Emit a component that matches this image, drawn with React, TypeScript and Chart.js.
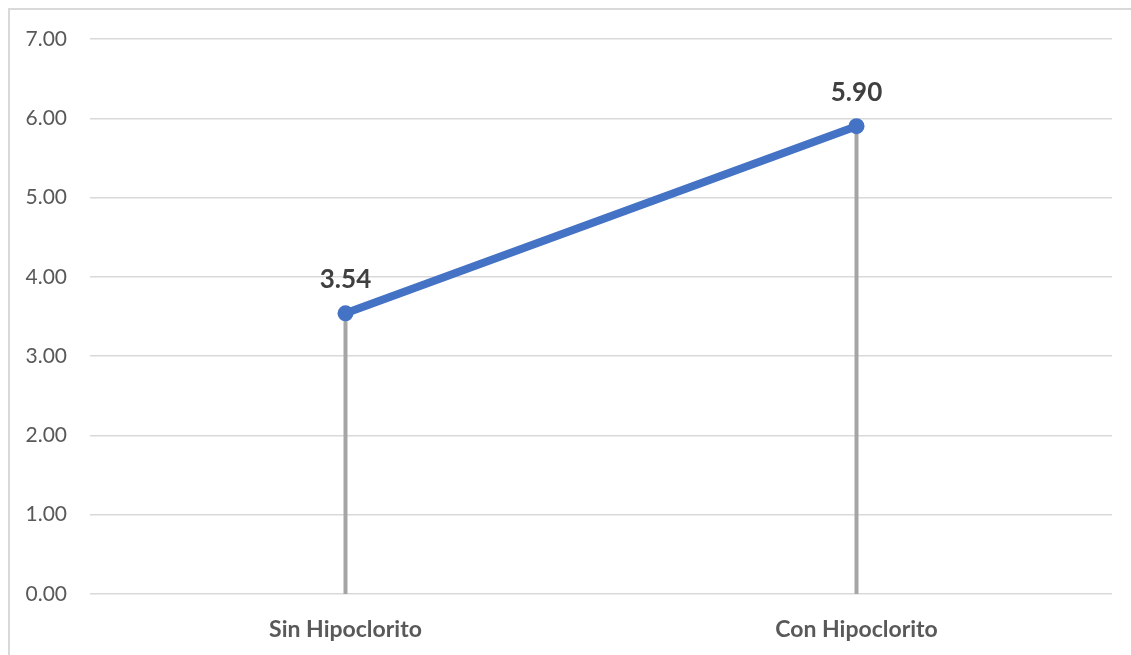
import React, { useEffect, useRef } from "react";
import { Chart, registerables } from "chart.js";

Chart.register(...registerables);

const categories = ["Sin Hipoclorito", "Con Hipoclorito"];
const values = [3.54, 5.9];
const yTicks = [0, 1, 2, 3, 4, 5, 6, 7];

const FONT = "Lato, 'Open Sans', sans-serif";

// Vertical drop lines from each point down to the zero line
const dropLines = {
  id: "dropLines",
  beforeDatasetsDraw(chart: any) {
    const { ctx, scales } = chart;
    const meta = chart.getDatasetMeta(0);
    const y0 = scales.y.getPixelForValue(0);
    ctx.save();
    ctx.strokeStyle = "#a5a5a5";
    ctx.lineWidth = 4;
    meta.data.forEach((pt: any) => {
      ctx.beginPath();
      ctx.moveTo(pt.x, pt.y);
      ctx.lineTo(pt.x, y0);
      ctx.stroke();
    });
    ctx.restore();
  },
};

// Value labels above each point
const valueLabels = {
  id: "valueLabels",
  afterDatasetsDraw(chart: any) {
    const { ctx } = chart;
    const meta = chart.getDatasetMeta(0);
    ctx.save();
    ctx.font = `bold 26px ${FONT}`;
    ctx.fillStyle = "#404040";
    ctx.textAlign = "center";
    ctx.textBaseline = "middle";
    meta.data.forEach((pt: any, i: number) => {
      ctx.fillText(values[i].toFixed(2), pt.x, pt.y - 34);
    });
    ctx.restore();
  },
};

export default function App() {
  const ref = useRef<HTMLCanvasElement>(null);

  useEffect(() => {
    if (!ref.current) return;
    const chart = new Chart(ref.current, {
      type: "line",
      data: {
        labels: categories,
        datasets: [
          {
            data: values,
            borderColor: "#4472c4",
            backgroundColor: "#4472c4",
            borderWidth: 8,
            pointRadius: 8,
            pointHoverRadius: 8,
            pointBorderWidth: 0,
            tension: 0,
          },
        ],
      },
      options: {
        animation: false,
        responsive: false,
        events: [],
        layout: { padding: { top: 31, right: 17, bottom: 0, left: 0 } },
        plugins: { legend: { display: false }, tooltip: { enabled: false } },
        scales: {
          x: {
            offset: true,
            grid: { display: false, drawTicks: false },
            border: { display: false },
            ticks: {
              color: "#595959",
              font: { family: FONT, size: 23, weight: "bold" },
              padding: 22,
            },
            afterFit(scale: any) {
              scale.height = 59;
            },
          },
          y: {
            min: 0,
            max: 7,
            afterBuildTicks(scale: any) {
              scale.ticks = yTicks.map((v) => ({ value: v }));
            },
            grid: { color: "#d9d9d9", lineWidth: 1.5, drawTicks: false },
            border: { display: false },
            ticks: {
              color: "#595959",
              font: { family: FONT, size: 21 },
              padding: 23,
              callback: (v: any) => Number(v).toFixed(2),
            },
            afterFit(scale: any) {
              scale.width = 82;
              scale.paddingTop = 0;
              scale.paddingBottom = 0;
            },
          },
        },
      },
      plugins: [dropLines, valueLabels],
    });
    return () => chart.destroy();
  }, []);

  return (
    <div
      style={{
        position: "fixed",
        left: 8,
        top: 8,
        width: 1123,
        height: 647,
        borderTop: "2px solid #d9d9d9",
        borderLeft: "2px solid #d9d9d9",
        boxSizing: "border-box",
        background: "#fff",
      }}
    >
      <canvas
        ref={ref}
        width={1121}
        height={645}
        style={{ position: "absolute", left: -2, top: -2 }}
      />
    </div>
  );
}
